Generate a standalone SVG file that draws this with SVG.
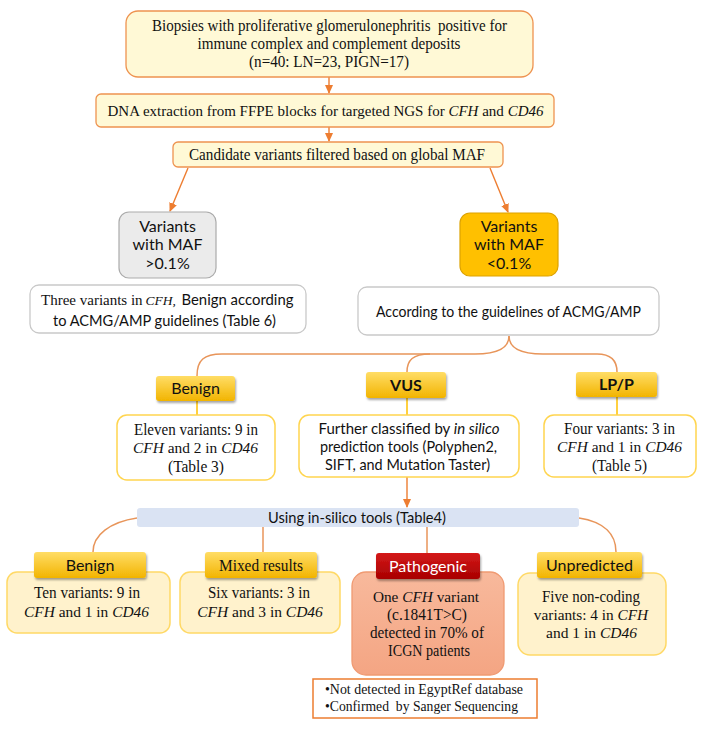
<svg xmlns="http://www.w3.org/2000/svg" width="701" height="735" viewBox="0 0 701 735">
<style>
.serif{font-family:"Liberation Serif","Times New Roman",serif;fill:#111;}
.sans{font-family:Lato,"Liberation Sans",Arial,sans-serif;fill:#111;}
.i{font-style:italic;}
.top{fill:#FFF9D6;stroke:#EE9350;stroke-width:1.3;}
.mid{fill:#FFFFFF;stroke:#FFD54F;stroke-width:1.5;}
.low{fill:#FFF2CC;stroke:#FFD966;stroke-width:1.5;}
.grey{fill:#FFFFFF;stroke:#C9C9C9;stroke-width:1.3;}
.arrow{stroke:#ED7D31;stroke-width:1.4;fill:none;}
.brace{stroke:#E8955A;stroke-width:1.5;fill:none;}
.gline{stroke:#FFC000;stroke-width:1.5;fill:none;}
.tag{fill:url(#gold);filter:url(#sh);}
</style>
<defs>
<marker id="ah" markerWidth="9" markerHeight="9" refX="8" refY="4.5" orient="auto" markerUnits="userSpaceOnUse">
<path d="M0,0.5 L9,4.5 L0,8.5 Z" fill="#ED7D31"/>
</marker>
<linearGradient id="gold" x1="0" y1="0" x2="0" y2="1">
<stop offset="0" stop-color="#FFDD66"/><stop offset="1" stop-color="#F2B400"/>
</linearGradient>
<linearGradient id="red" x1="0" y1="0" x2="0" y2="1">
<stop offset="0" stop-color="#D41A1A"/><stop offset="1" stop-color="#A80000"/>
</linearGradient>
<linearGradient id="salmon" x1="0" y1="0" x2="0" y2="1">
<stop offset="0" stop-color="#F8B99C"/><stop offset="1" stop-color="#F4A583"/>
</linearGradient>
<filter id="sh" x="-10%" y="-20%" width="130%" height="160%">
<feDropShadow dx="1" dy="2" stdDeviation="1.2" flood-color="#000" flood-opacity="0.35"/>
</filter>
</defs>

<g id="connectors">
<line class="arrow" x1="329" y1="77" x2="329" y2="93" marker-end="url(#ah)"/>
<line class="arrow" x1="329" y1="127" x2="329" y2="141" marker-end="url(#ah)"/>
<line class="arrow" x1="188" y1="168" x2="170" y2="211" marker-end="url(#ah)"/>
<line class="arrow" x1="490" y1="168" x2="508" y2="212" marker-end="url(#ah)"/>
<path class="brace" d="M509,336 C509,350 495,354 475,354 L222,354 C204,354 197,360 197,376"/>
<path class="brace" d="M430,354 C413,354 407,360 407,372"/>
<path class="brace" d="M509,336 C509,350 523,354 543,354 L597,354 C611,354 617,360 617,372"/>
<line class="gline" x1="197" y1="401" x2="197" y2="415"/>
<line class="gline" x1="407" y1="398" x2="407" y2="415"/>
<line class="gline" x1="617" y1="397" x2="617" y2="415"/>
<line class="arrow" x1="407" y1="477" x2="407" y2="507" marker-end="url(#ah)"/>
<path class="brace" d="M137,518 C110,522 93,535 93,552"/>
<line class="brace" x1="263" y1="527" x2="263" y2="552"/>
<line class="brace" x1="427" y1="527" x2="427" y2="553"/>
<path class="brace" d="M579,518 C605,522 616,535 616,552"/>
</g>

<g id="n-biopsies">
<rect class="top" x="126" y="11" width="407" height="66" rx="12"/>
<text class="serif" font-size="16" text-anchor="middle" x="329.5" y="31" textLength="355" lengthAdjust="spacingAndGlyphs" xml:space="preserve">Biopsies with proliferative glomerulonephritis  positive for</text>
<text class="serif" font-size="16" text-anchor="middle" x="329" y="49" textLength="263" lengthAdjust="spacingAndGlyphs">immune complex and complement deposits</text>
<text class="serif" font-size="16" text-anchor="middle" x="329" y="67" textLength="160" lengthAdjust="spacingAndGlyphs">(n=40: LN=23, PIGN=17)</text>
</g>

<g id="n-dna">
<rect class="top" x="96" y="94" width="458" height="33" rx="5"/>
<text class="serif" font-size="15" text-anchor="middle" x="325.5" y="116">DNA extraction from FFPE blocks for targeted NGS for <tspan class="i">CFH</tspan> and <tspan class="i">CD46</tspan></text>
</g>

<g id="n-candidate">
<rect class="top" x="173" y="142" width="330" height="25" rx="5"/>
<text class="serif" font-size="16" text-anchor="middle" x="337" y="160" textLength="296" lengthAdjust="spacingAndGlyphs">Candidate variants filtered based on global MAF</text>
</g>

<g id="n-maf-high">
<rect x="119" y="212" width="97" height="66" rx="10" fill="#EBEBEB" stroke="#ABABAB" stroke-width="1.2"/>
<text class="sans" font-size="16" text-anchor="middle" x="167.5" y="232">Variants</text>
<text class="sans" font-size="16" text-anchor="middle" x="167.5" y="250">with MAF</text>
<text class="sans" font-size="16" text-anchor="middle" x="167.5" y="269">&gt;0.1%</text>
</g>

<g id="n-maf-low">
<rect x="460" y="213" width="98" height="63" rx="10" fill="#FFC000" stroke="#DDA200" stroke-width="1.2"/>
<text class="sans" font-size="16" text-anchor="middle" x="509" y="232">Variants</text>
<text class="sans" font-size="16" text-anchor="middle" x="509" y="250">with MAF</text>
<text class="sans" font-size="16" text-anchor="middle" x="509" y="269">&lt;0.1%</text>
</g>

<g id="n-three">
<rect class="grey" x="30" y="285" width="276" height="48" rx="9"/>
<text class="serif" font-size="15" x="41" y="305">Three variants in</text>
<text class="serif i" font-size="13.5" x="145.5" y="305">CFH,</text>
<text class="sans" font-size="15" x="181.5" y="305" textLength="112" lengthAdjust="spacingAndGlyphs">Benign according</text>
<text class="sans" font-size="15" text-anchor="middle" x="164.5" y="326" textLength="223" lengthAdjust="spacingAndGlyphs">to ACMG/AMP guidelines (Table 6)</text>
</g>

<g id="n-according">
<rect class="grey" x="358" y="287" width="301" height="48" rx="9"/>
<text class="sans" font-size="16" text-anchor="middle" x="508.5" y="317" textLength="265" lengthAdjust="spacingAndGlyphs">According to the guidelines of ACMG/AMP</text>
</g>

<g id="n-eleven">
<rect class="mid" x="117" y="415" width="158" height="65" rx="10"/>
<text class="serif" font-size="16" text-anchor="middle" x="196" y="435" textLength="124" lengthAdjust="spacingAndGlyphs">Eleven variants: 9 in</text>
<text class="serif" font-size="15.4" text-anchor="middle" x="195.5" y="453"><tspan class="i">CFH</tspan> and 2 in <tspan class="i">CD46</tspan></text>
<text class="serif" font-size="16" text-anchor="middle" x="196" y="472" textLength="56" lengthAdjust="spacingAndGlyphs">(Table 3)</text>
</g>

<g id="n-further">
<rect class="mid" x="299" y="415" width="220" height="62" rx="10"/>
<text class="sans" font-size="15" text-anchor="middle" x="409" y="434">Further classified by <tspan class="i">in silico</tspan></text>
<text class="sans" font-size="15" text-anchor="middle" x="408.5" y="452" textLength="177" lengthAdjust="spacingAndGlyphs">prediction tools (Polyphen2,</text>
<text class="sans" font-size="15" text-anchor="middle" x="407.5" y="470" textLength="165" lengthAdjust="spacingAndGlyphs">SIFT, and Mutation Taster)</text>
</g>

<g id="n-four">
<rect class="mid" x="544" y="415" width="152" height="62" rx="10"/>
<text class="serif" font-size="16" text-anchor="middle" x="619.5" y="434" textLength="111" lengthAdjust="spacingAndGlyphs">Four variants: 3 in</text>
<text class="serif" font-size="15.4" text-anchor="middle" x="619.5" y="452"><tspan class="i">CFH</tspan> and 1 in <tspan class="i">CD46</tspan></text>
<text class="serif" font-size="16" text-anchor="middle" x="619.5" y="471" textLength="55" lengthAdjust="spacingAndGlyphs">(Table 5)</text>
</g>

<g id="t-benign-1">
<rect class="tag" x="156" y="376" width="79" height="25" rx="3"/>
<text class="sans" font-size="16" text-anchor="middle" x="195.5" y="394">Benign</text>
</g>
<g id="t-vus">
<rect class="tag" x="366" y="372" width="80" height="26" rx="3"/>
<text class="sans" font-size="16" font-weight="bold" text-anchor="middle" x="406" y="391">VUS</text>
</g>
<g id="t-lpp">
<rect class="tag" x="576" y="372" width="81" height="25" rx="3"/>
<text class="sans" font-size="16" font-weight="bold" text-anchor="middle" x="616.5" y="390">LP/P</text>
</g>

<g id="n-insilico">
<rect x="137" y="508" width="442" height="19" rx="3" fill="#DAE3F3"/>
<text class="sans" font-size="16" text-anchor="middle" x="357" y="523" textLength="178" lengthAdjust="spacingAndGlyphs">Using in-silico tools (Table4)</text>
</g>

<g id="n-ten">
<rect class="low" x="7" y="572" width="163" height="61" rx="10"/>
<text class="serif" font-size="16" text-anchor="middle" x="87" y="598" textLength="106" lengthAdjust="spacingAndGlyphs">Ten variants: 9 in</text>
<text class="serif" font-size="15.4" text-anchor="middle" x="86.5" y="617"><tspan class="i">CFH</tspan> and 1 in <tspan class="i">CD46</tspan></text>
</g>

<g id="n-six">
<rect class="low" x="180" y="572" width="160" height="61" rx="10"/>
<text class="serif" font-size="16" text-anchor="middle" x="259" y="598" textLength="102" lengthAdjust="spacingAndGlyphs">Six variants: 3 in</text>
<text class="serif" font-size="15.5" text-anchor="middle" x="260" y="617"><tspan class="i">CFH</tspan> and 3 in <tspan class="i">CD46</tspan></text>
</g>

<g id="n-pathogenic">
<rect x="352" y="572" width="152" height="103" rx="14" fill="url(#salmon)" stroke="#F09A72" stroke-width="1.3"/>
<text class="serif" font-size="15.3" text-anchor="middle" x="426" y="602">One <tspan class="i">CFH</tspan> variant</text>
<text class="serif" font-size="16" text-anchor="middle" x="427" y="620" textLength="80" lengthAdjust="spacingAndGlyphs">(c.1841T&gt;C)</text>
<text class="serif" font-size="16" text-anchor="middle" x="427" y="638" textLength="114" lengthAdjust="spacingAndGlyphs">detected in 70% of</text>
<text class="serif" font-size="16" text-anchor="middle" x="429" y="656" textLength="82" lengthAdjust="spacingAndGlyphs">ICGN patients</text>
</g>

<g id="n-unpredicted">
<rect class="low" x="518" y="573" width="148" height="82" rx="12"/>
<text class="serif" font-size="16" text-anchor="middle" x="591" y="602" textLength="98" lengthAdjust="spacingAndGlyphs">Five non-coding</text>
<text class="serif" font-size="15.3" text-anchor="middle" x="591" y="620">variants: 4 in <tspan class="i">CFH</tspan></text>
<text class="serif" font-size="15.5" text-anchor="middle" x="591.5" y="638">and 1 in <tspan class="i">CD46</tspan></text>
</g>

<g id="t-benign-2">
<rect class="tag" x="34" y="552" width="112" height="26" rx="3"/>
<text class="sans" font-size="16" text-anchor="middle" x="90" y="571">Benign</text>
</g>
<g id="t-mixed">
<rect class="tag" x="205" y="552" width="112" height="26" rx="3"/>
<text class="serif" font-size="16" text-anchor="middle" x="261" y="571" textLength="84" lengthAdjust="spacingAndGlyphs">Mixed results</text>
</g>
<g id="t-pathogenic">
<rect x="376" y="553" width="104" height="26" rx="3" fill="url(#red)" filter="url(#sh)"/>
<text class="sans" font-size="16" text-anchor="middle" x="428" y="572" style="fill:#FFFFFF">Pathogenic</text>
</g>
<g id="t-unpredicted">
<rect class="tag" x="537" y="552" width="105" height="26" rx="3"/>
<text class="sans" font-size="16" text-anchor="middle" x="589.5" y="571">Unpredicted</text>
</g>

<g id="n-note">
<rect x="313" y="679" width="224" height="39" fill="#FFFFFF" stroke="#ED7D31" stroke-width="1.5"/>
<text class="serif" font-size="14" x="325" y="694" textLength="198" lengthAdjust="spacingAndGlyphs">•Not detected in EgyptRef database</text>
<text class="serif" font-size="14" x="325" y="711" textLength="193" lengthAdjust="spacingAndGlyphs" xml:space="preserve">•Confirmed  by Sanger Sequencing</text>
</g>
</svg>
